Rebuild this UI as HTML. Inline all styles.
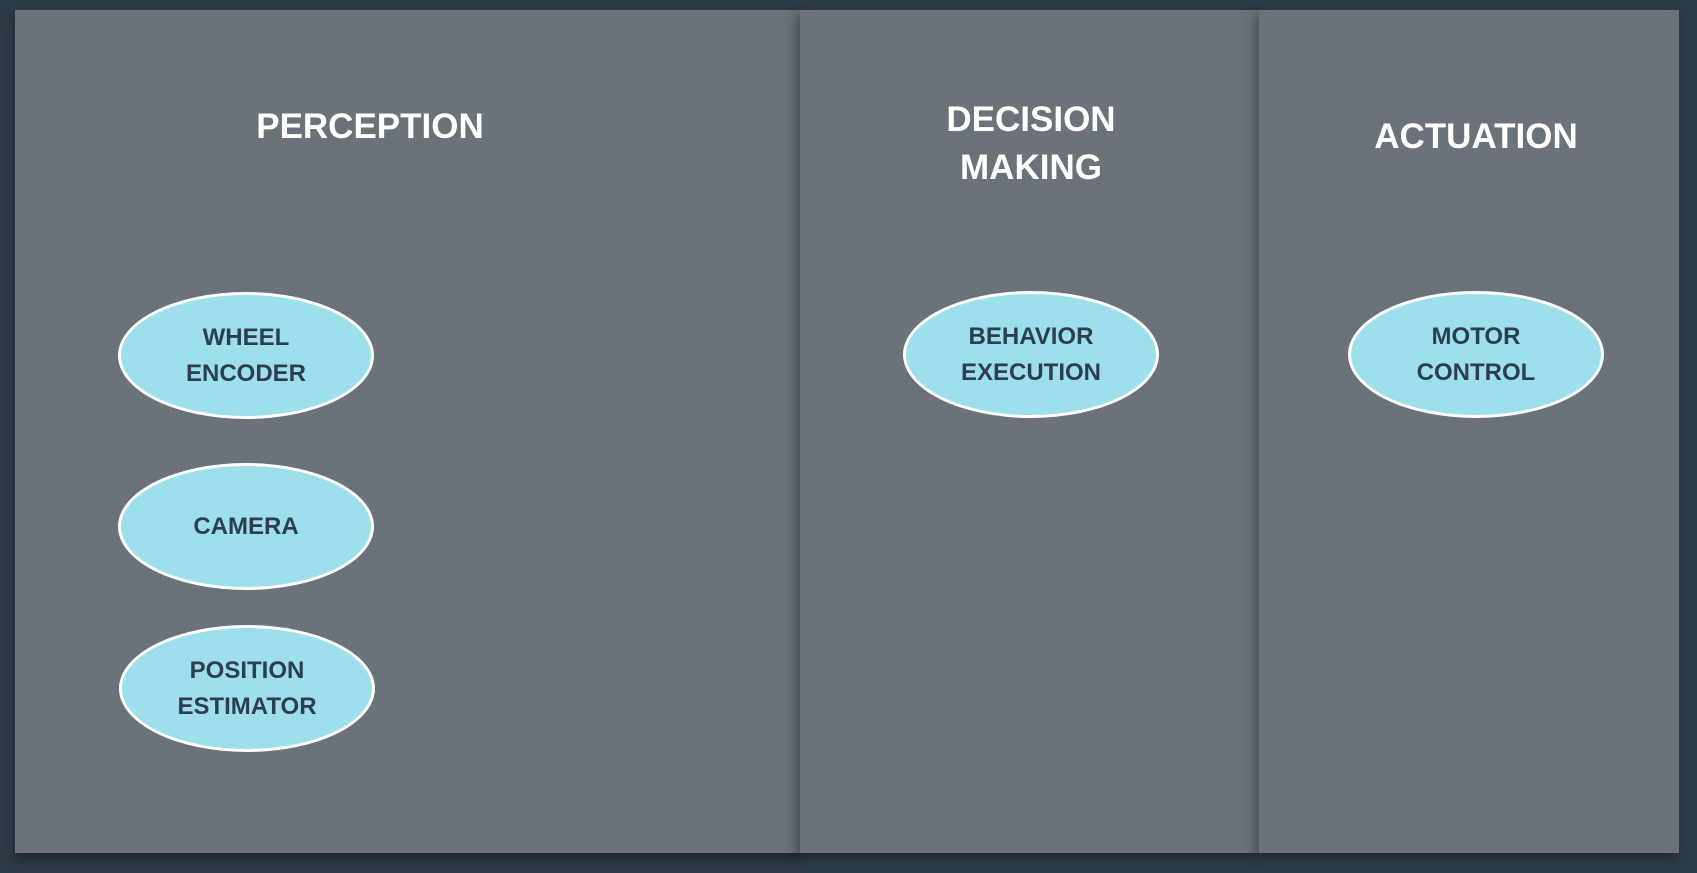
<!DOCTYPE html>
<html><head><style>
body{margin:0;width:1697px;height:873px;background:#2c3a46;position:relative;overflow:hidden;font-family:"Liberation Sans",sans-serif;}
.p{position:absolute;top:10px;height:843px;background:#6b7279;}
.t{position:absolute;color:#fff;font-size:35px;font-weight:bold;text-align:center;width:400px;line-height:48px;}
.e{position:absolute;width:256px;height:127px;border:3.5px solid #fff;border-radius:50%;background:#9de0ec;box-sizing:border-box;display:flex;align-items:center;justify-content:center;text-align:center;color:#2c3e50;font-size:24px;line-height:36px;font-weight:bold;}
</style></head><body>
<div class="p" style="left:15px;width:785px;box-shadow:0 6px 10px rgba(0,0,0,.35)"></div>
<div class="p" style="left:800px;width:459px;box-shadow:-4px 4px 10px rgba(0,0,0,.35)"></div>
<div class="p" style="left:1259px;width:420px;box-shadow:-4px 4px 10px rgba(0,0,0,.35)"></div>
<div class="t" style="left:170px;top:103px">PERCEPTION</div>
<div class="t" style="left:831px;top:96px">DECISION<br>MAKING</div>
<div class="t" style="left:1276px;top:113px">ACTUATION</div>
<div class="e" style="left:118px;top:292px">WHEEL<br>ENCODER</div>
<div class="e" style="left:118px;top:463px">CAMERA</div>
<div class="e" style="left:119px;top:625px">POSITION<br>ESTIMATOR</div>
<div class="e" style="left:903px;top:291px">BEHAVIOR<br>EXECUTION</div>
<div class="e" style="left:1348px;top:291px">MOTOR<br>CONTROL</div>
</body></html>
